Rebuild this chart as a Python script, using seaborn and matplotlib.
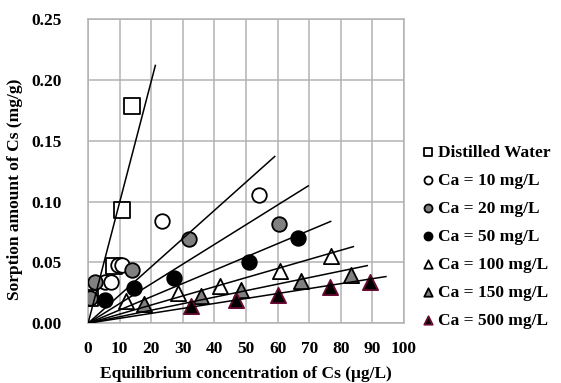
import numpy as np
import pandas as pd
import seaborn as sns
import matplotlib.pyplot as plt

# series (x: ug/L, y: mg/g)
dw_x = [0.6, 8.1, 10.8, 14.0]
dw_y = [0.021, 0.047, 0.093, 0.179]

ca10_x = [5.2, 7.1, 9.6, 10.8, 23.4, 54.2]
ca10_y = [0.034, 0.034, 0.048, 0.048, 0.084, 0.1055]

ca20_x = [0.5, 2.1, 13.9, 32.0, 60.5]
ca20_y = [0.021, 0.034, 0.044, 0.069, 0.082]

ca50_x = [5.3, 14.6, 27.3, 51.0, 66.5]
ca50_y = [0.019, 0.029, 0.037, 0.050, 0.070]

ca100_x = [12.1, 28.5, 41.7, 60.7, 76.9]
ca100_y = [0.018, 0.025, 0.031, 0.043, 0.055]

ca150_x = [17.6, 35.6, 48.3, 67.4, 83.4]
ca150_y = [0.016, 0.0225, 0.027, 0.035, 0.040]

ca500_x = [32.5, 46.7, 60.1, 76.6, 89.2]
ca500_y = [0.014, 0.019, 0.023, 0.0296, 0.034]

labels = ["Distilled Water", "Ca = 10 mg/L", "Ca = 20 mg/L", "Ca = 50 mg/L",
          "Ca = 100 mg/L", "Ca = 150 mg/L", "Ca = 500 mg/L"]
# linear fits through the origin (slope, end of line)
slopes = [0.00995, 0.00232, 0.00162, 0.00109, 0.00075, 0.000536, 0.000407]
fit_end = [21.3, 59.1, 69.7, 76.8, 84.0, 88.4, 94.3]

xs = [dw_x, ca10_x, ca20_x, ca50_x, ca100_x, ca150_x, ca500_x]
ys = [dw_y, ca10_y, ca20_y, ca50_y, ca100_y, ca150_y, ca500_y]
markers = ["s", "o", "o", "o", "^", "^", "^"]
faces = ["white", "white", "#808080", "black", "white", "#808080", "black"]
edges = ["black", "black", "black", "black", "black", "black", "#6b0a33"]
sizes = [120, 110, 110, 110, 120, 120, 120]

plt.rcParams['font.family'] = ['Liberation Serif', 'DejaVu Serif']
plt.rcParams['font.weight'] = 'bold'

fig = plt.figure(figsize=(5.61, 3.83), dpi=100)
ax = fig.add_axes([0.157, 0.156, 0.563, 0.794])

for i in range(len(labels)):
    sns.scatterplot(x=xs[i], y=ys[i], marker=markers[i], s=sizes[i],
                    facecolor=faces[i], edgecolor=edges[i], linewidth=1.3,
                    label=labels[i], ax=ax, zorder=3)
    fx = np.array([0, fit_end[i]])
    sns.lineplot(x=fx, y=slopes[i] * fx, color="black", linewidth=1.1,
                 ax=ax, zorder=4, legend=False)

ax.set_xlim(0, 100)
ax.set_ylim(0, 0.25)
ax.set_xticks(np.arange(0, 101, 10))
ax.set_yticks(np.arange(0, 0.251, 0.05))
ax.set_yticklabels([f"{v:.2f}" for v in np.arange(0, 0.251, 0.05)])
ax.grid(True, color="#b3b3b3", linewidth=1.1)
ax.set_axisbelow(True)
for s in ax.spines.values():
    s.set_color("#b3b3b3")
    s.set_linewidth(1.1)
ax.tick_params(axis="both", length=0, labelsize=12.5)
ax.tick_params(axis="y", pad=19)
ax.tick_params(axis="x", pad=13)
for t in ax.get_xticklabels() + ax.get_yticklabels():
    t.set_fontweight("bold")

ax.set_xlabel("Equilibrium concentration of Cs (μg/L)", fontsize=12.5,
              fontweight="bold")
ax.set_ylabel("Sorption amount of Cs (mg/g)", fontsize=12.5, fontweight="bold")
ax.xaxis.set_label_coords(0.5, -0.14)
ax.yaxis.set_label_coords(-0.206, 0.44)

handles, labs = ax.get_legend_handles_labels()
ax.get_legend().remove()
leg = fig.legend(handles, labs, loc="upper left", bbox_to_anchor=(0.748, 0.622),
                 frameon=False, fontsize=12.5, markerscale=0.55,
                 handletextpad=0.05, handlelength=1.0, labelspacing=0.68,
                 borderpad=0, borderaxespad=0)
for t in leg.get_texts():
    t.set_fontweight("bold")

fig.savefig("out.png", dpi=100)
